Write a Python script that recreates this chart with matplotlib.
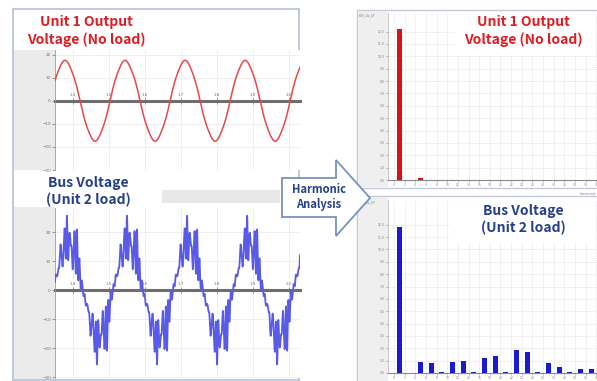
import numpy as np
import matplotlib.pyplot as plt
from matplotlib.patches import Rectangle, Polygon

W, H = 597, 381

# harmonic spectra (rms per harmonic order)
unit1_orders = [1, 5]
unit1_values = [12.2, 0.2]
bus_orders = [1, 3, 5, 7, 9, 11, 13, 15, 17, 19, 21, 23, 25, 27, 29, 31, 33, 35, 37]
bus_values = [11.8, 0.04, 0.86, 0.81, 0.05, 0.86, 0.97, 0.08, 1.24, 1.4, 0.1,
              1.84, 1.68, 0.1, 0.84, 0.46, 0.05, 0.3, 0.3]
# phase of each harmonic (deg), used to rebuild the time waveforms
unit1_phases = [0, 0]
bus_phases = [0, 0, 90, 200, 0, 30, 250, 0, 120, 300, 0, 60, 170, 0, 270, 40,
              0, 150, 330]
unit1_start = 30   # fundamental angle at left edge of the scope (deg)
bus_start = 10

time_ticks = [0.005, 0.015, 0.025, 0.035, 0.045, 0.055, 0.065]
time_labels = ['1.4', '1.5', '1.6', '1.7', '1.8', '1.9', '2.0']
volt_ticks = [-30, -20, -10, 0, 10, 20]
harm_ticks = list(range(0, 40, 2))
rms_ticks = list(range(0, 13))

RED = '#e01c22'
NAVY = '#253f8a'
BAR_RED = '#dd1111'
BAR_BLUE = '#1a1ad0'
WAVE_RED = '#e8484c'
WAVE_BLUE = '#5a5ae8'
TITLE_FONT = ['Noto Sans CJK KR', 'DejaVu Sans']


def rect(x0, y0, x1, y1):
    """pixel box (top-down) -> figure coords"""
    return [x0 / W, 1 - y1 / H, (x1 - x0) / W, (y1 - y0) / H]


def waveform(t, orders, values, phases, start):
    w = 2 * np.pi * 60 * t + np.deg2rad(start)
    v = np.zeros_like(t)
    for n, a, p in zip(orders, values, phases):
        v += np.sqrt(2) * a * np.sin(n * w + np.deg2rad(p))
    return v


def scope(ax, orders, values, phases, start, color, ylim, lw):
    t = np.linspace(0, 0.068, 4000)
    ax.plot(t, waveform(t, orders, values, phases, start), color=color, lw=lw, zorder=3)
    ax.set_xlim(0, 0.068)
    ax.set_ylim(*ylim)
    ax.set_xticks(time_ticks)
    ax.set_xticklabels(time_labels)
    ax.set_yticks(volt_ticks)
    ax.xaxis.tick_top()
    ax.spines['top'].set_position(('data', 0))
    ax.spines['top'].set_color('#6e6e6e')
    ax.spines['top'].set_linewidth(2.2)
    ax.spines['top'].set_zorder(2)
    for s in ['right', 'bottom']:
        ax.spines[s].set_visible(False)
    ax.spines['left'].set_color('#9a9a9a')
    ax.spines['left'].set_linewidth(0.6)
    ax.tick_params(labelsize=3, colors='#707070', length=2, width=0.5, pad=1)
    ax.tick_params(axis='x', direction='inout', length=4)
    ax.grid(color='#ececec', lw=0.6)
    ax.set_axisbelow(True)


def spectrum(ax, orders, values, color, ymax):
    ax.bar(orders, values, width=0.95, color=color, zorder=3)
    ax.set_xlim(-1.1, 38.1)
    ax.set_ylim(0, ymax)
    ax.set_xticks(harm_ticks)
    ax.set_yticks(rms_ticks)
    ax.set_yticklabels([f'{v:.1f}' for v in rms_ticks])
    ax.tick_params(labelsize=2.2, colors='#808080', length=1.5, width=0.4, pad=1)
    for s in ['right', 'top']:
        ax.spines[s].set_visible(False)
    ax.spines['left'].set_color('#b0b0b0')
    ax.spines['left'].set_linewidth(0.5)
    ax.spines['bottom'].set_color('#8a8a8a')
    ax.spines['bottom'].set_linewidth(0.8)
    ax.grid(color='#e2e2e2', lw=0.5, ls=(0, (2, 1)))
    ax.set_axisbelow(True)


fig = plt.figure(figsize=(W / 100, H / 100), dpi=100)

# screenshot frames and gray gutters
bg = fig.add_axes([0, 0, 1, 1], zorder=0)
bg.set_xlim(0, W)
bg.set_ylim(H, 0)
bg.axis('off')
bg.add_patch(Rectangle((13, 9), 286, 371, fc='white', ec='#b4c0d6', lw=1.2))
bg.add_patch(Rectangle((14, 50), 41, 120, fc='#ebebeb', ec='none'))
bg.add_patch(Rectangle((14, 207), 41, 172, fc='#ebebeb', ec='none'))
bg.add_patch(Rectangle((162, 190), 118, 13, fc='#e8e8e8', ec='none'))
bg.add_patch(Rectangle((357, 10), 245, 178, fc='white', ec='#c4cad6', lw=1.0))
bg.add_patch(Rectangle((357, 196), 245, 190, fc='white', ec='#c4cad6', lw=1.0))
bg.add_patch(Rectangle((358, 11), 30, 176, fc='#efefef', ec='none'))
bg.add_patch(Rectangle((358, 197), 30, 184, fc='#efefef', ec='none'))

# left: scope traces
ax1 = fig.add_axes(rect(55, 50, 300, 170), zorder=1)
scope(ax1, unit1_orders, unit1_values, unit1_phases, unit1_start, WAVE_RED,
      (-28, 22), 1.1)
ax2 = fig.add_axes(rect(55, 208, 300, 378), zorder=1)
scope(ax2, bus_orders, bus_values, bus_phases, bus_start, WAVE_BLUE,
      (-30.3, 28.3), 1.3)

# right: harmonic spectra
ax3 = fig.add_axes(rect(388, 13, 597, 180), zorder=1)
spectrum(ax3, unit1_orders, unit1_values, BAR_RED, 13.5)
ax3.set_xlabel('harmonic', fontsize=2.5, color='#808080', loc='right', labelpad=3)
ax3.text(-0.14, 1.0, 'BUS_Va_1P', transform=ax3.transAxes, fontsize=2.2,
         color='#808080', va='top')
ax4 = fig.add_axes(rect(388, 200, 597, 373), zorder=1)
spectrum(ax4, bus_orders, bus_values, BAR_BLUE, 14.0)
ax4.text(-0.14, 1.0, 'BUS_Va_1P', transform=ax4.transAxes, fontsize=2.2,
         color='#808080', va='top')

# overlay: titles and arrow
fg = fig.add_axes([0, 0, 1, 1], zorder=5)
fg.set_xlim(0, W)
fg.set_ylim(H, 0)
fg.axis('off')
fg.patch.set_alpha(0)

tkw = dict(family=TITLE_FONT, fontsize=10, fontweight='bold', ha='center',
           va='center', linespacing=1.25)
fg.text(86, 31, 'Unit 1 Output\nVoltage (No load)', color=RED, **tkw)
fg.text(88, 192, 'Bus Voltage\n(Unit 2 load)', color=NAVY, **tkw)
fg.add_patch(Rectangle((455, 12), 141, 44, fc='white', ec='none'))
fg.text(523, 31, 'Unit 1 Output\nVoltage (No load)', color=RED, **tkw)
fg.add_patch(Rectangle((450, 201), 146, 42, fc='white', ec='none'))
fg.text(523, 220, 'Bus Voltage\n(Unit 2 load)', color=NAVY, **tkw)

arrow = Polygon([(282, 178), (336, 178), (336, 160), (370, 198),
                 (336, 236), (336, 217), (282, 217)],
                closed=True, fc='white', ec='#6f8dbf', lw=1.3, alpha=0.95)
fg.add_patch(arrow)
fg.text(319, 197, 'Harmonic\nAnalysis', color=NAVY, family=TITLE_FONT,
        fontsize=8, fontweight='bold', ha='center', va='center', linespacing=1.2)

fig.savefig('out.png', dpi=100)
